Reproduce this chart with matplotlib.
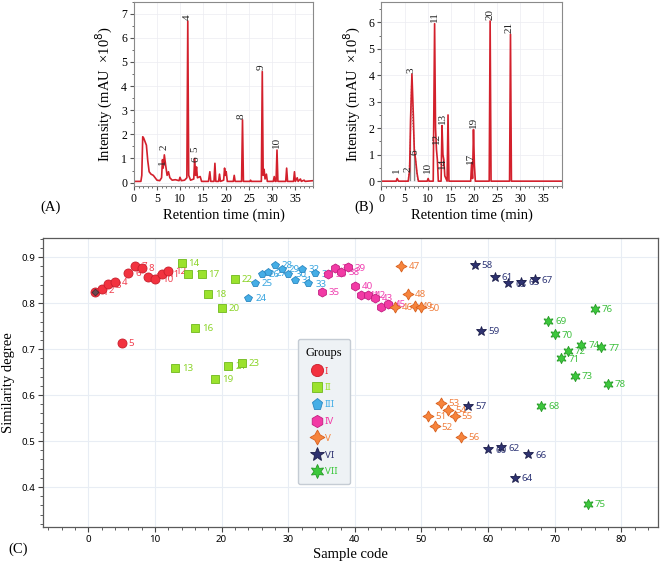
import matplotlib
matplotlib.use('Agg')
import matplotlib.pyplot as plt
from matplotlib.lines import Line2D
from matplotlib.ticker import MultipleLocator

# ---- chromatogram (A): retention time (min) vs intensity (x10^8 mAU)
a_time = [0, 1.5, 1.7, 1.9, 2.1, 2.4, 2.7, 3.0, 3.3, 3.7, 4.2, 4.6, 5.0, 5.6, 6.0, 6.2, 6.35,
          6.6, 6.9, 7.2, 7.5, 7.8, 8.3, 9.0, 9.8, 10.0, 10.3, 11.0, 11.5, 11.7, 11.9, 12.3,
          13.0, 13.2, 13.4, 13.6, 13.8, 14.4, 14.7, 16.2, 16.5, 16.7, 17.4, 17.6, 17.8, 18.4,
          18.6, 18.8, 19.5, 19.7, 19.9, 20.05, 20.3, 21.6, 21.8, 22.0, 23.4, 23.6, 23.8, 25.2,
          25.35, 25.5, 27.7, 27.9, 28.1, 28.3, 28.5, 28.8, 29.0, 30.3, 30.5, 30.7, 30.9, 31.1,
          31.3, 33.0, 33.2, 33.4, 34.7, 34.9, 35.1, 35.5, 35.7, 36.2, 36.4, 37.0, 37.2, 39.0]
a_intensity = [0.05, 0.05, 0.3, 1.9, 1.85, 1.7, 1.55, 0.9, 0.45, 0.35, 0.3, 0.2, 0.1, 0.08, 0.2,
               0.95, 0.6, 1.15, 0.7, 0.3, 0.45, 0.2, 0.1, 0.12, 0.08, 0.22, 0.08, 0.1, 0.2, 6.7,
               0.3, 0.1, 0.15, 1.0, 0.3, 0.65, 0.2, 0.25, 0.05, 0.05, 0.45, 0.05, 0.05, 0.8, 0.05,
               0.05, 0.35, 0.05, 0.1, 0.6, 0.3, 0.45, 0.05, 0.05, 0.3, 0.05, 0.05, 2.6, 0.05, 0.05,
               0.1, 0.05, 0.05, 4.6, 0.3, 0.55, 0.15, 0.35, 0.05, 0.05, 0.25, 0.05, 0.05, 1.35,
               0.05, 0.05, 0.6, 0.05, 0.05, 0.45, 0.05, 0.2, 0.05, 0.15, 0.05, 0.1, 0.05, 0.08]
a_peak_names = ['1', '2', '4', '5', '6', '8', '9', '10']
a_peak_rt = [6.2, 6.5, 11.5, 13.2, 13.5, 23.4, 27.7, 30.9]
a_peak_label_y = [0.75, 1.35, 6.75, 1.25, 0.85, 2.65, 4.65, 1.45]

# ---- chromatogram (B)
b_time = [0, 3.2, 3.4, 3.7, 5.8, 6.1, 6.3, 6.6, 6.9, 7.1, 7.4, 7.7, 8.0, 9.9, 10.1, 10.3, 11.2,
          11.5, 11.7, 11.9, 12.1, 12.3, 12.9, 13.1, 13.3, 13.5, 13.7, 14.2, 14.4, 14.6, 19.3,
          19.5, 19.7, 19.9, 20.1, 20.3, 23.3, 23.5, 23.7, 27.7, 27.9, 28.1, 39.0]
b_intensity = [0, 0, 0.1, 0, 0, 0.4, 2.3, 4.05, 2.5, 1.2, 0.8, 0.3, 0, 0, 0.1, 0, 0, 5.95, 2.0,
               1.2, 0.8, 0, 0, 2.1, 1.0, 0.8, 0.2, 0, 2.5, 0, 0, 0.7, 0.1, 1.95, 0.6, 0, 0, 6.05,
               0, 0, 5.55, 0, 0]
b_ref_time = [5.8, 6.2, 6.5, 6.8, 7.2, 7.5, 7.9]
b_ref_intensity = [0, 1.0, 3.6, 2.2, 1.2, 0.6, 0]
b_peak_names = ['1', '2', '3', '6', '10', '11', '12', '13', '14', '17', '19', '20', '21']
b_peak_rt = [3.3, 5.8, 6.5, 7.3, 9.9, 11.4, 11.9, 13.2, 13.3, 19.2, 19.9, 23.4, 27.6]
b_peak_label_y = [0.3, 0.35, 4.1, 1.0, 0.3, 6.0, 1.4, 2.15, 0.45, 0.65, 2.0, 6.1, 5.6]

# ---- similarity (C)
group_names = ['I', 'II', 'III', 'IV', 'V', 'VI', 'VII']
group_codes = [
    [1, 2, 3, 4, 5, 6, 7, 8, 9, 10, 11, 12],
    [13, 14, 15, 16, 17, 18, 19, 20, 21, 22, 23],
    [24, 25, 26, 27, 28, 29, 30, 31, 32, 33, 34],
    [35, 36, 37, 38, 39, 40, 41, 42, 43, 44, 45],
    [46, 47, 48, 49, 50, 51, 52, 53, 54, 55, 56],
    [57, 58, 59, 60, 61, 62, 63, 64, 65, 66, 67],
    [68, 69, 70, 71, 72, 73, 74, 75, 76, 77, 78],
]
group_similarity = [
    [0.825, 0.830, 0.841, 0.847, 0.713, 0.866, 0.882, 0.876, 0.858, 0.853, 0.863, 0.871],
    [0.659, 0.888, 0.863, 0.747, 0.864, 0.820, 0.636, 0.790, 0.664, 0.853, 0.670],
    [0.812, 0.845, 0.863, 0.867, 0.883, 0.874, 0.864, 0.851, 0.875, 0.843, 0.865],
    [0.824, 0.863, 0.876, 0.869, 0.878, 0.838, 0.818, 0.818, 0.811, 0.792, 0.798],
    [0.792, 0.881, 0.820, 0.795, 0.791, 0.554, 0.532, 0.583, 0.567, 0.554, 0.509],
    [0.576, 0.883, 0.739, 0.482, 0.858, 0.486, 0.843, 0.419, 0.846, 0.471, 0.852],
    [0.576, 0.762, 0.732, 0.680, 0.696, 0.642, 0.709, 0.364, 0.787, 0.704, 0.625],
]

markers = ['o', 's', 'p', 'h', (4, 1, 0), '*', (6, 1, 0)]
sizes = [6.5, 5.5, 6, 6.5, 8, 7.5, 7.5]
faces = ['#f2323f', '#9be22d', '#45aee6', '#f23aa5', '#f6843c', '#2e3270', '#3cc83c']
edges = ['#c81e2c', '#6fb81c', '#2a86c0', '#c21f80', '#d8601e', '#1b1d4a', '#259a25']
text_colors = ['#f04050', '#8cd42a', '#3aa6e0', '#f040b0', '#f08040', '#303878', '#40c040']

serif = 'Liberation Serif'
sans = 'Noto Sans'
red = '#d3202c'

fig = plt.figure(figsize=(6.61, 5.65), dpi=100)


def chrom_axes(rect, ymin, ytop):
    ax = fig.add_axes(rect)
    ax.set_xlim(0, 39)
    ax.set_ylim(ymin, ytop)
    ax.xaxis.set_major_locator(MultipleLocator(5))
    ax.xaxis.set_minor_locator(MultipleLocator(1))
    ax.yaxis.set_major_locator(MultipleLocator(1))
    ax.yaxis.set_minor_locator(MultipleLocator(0.5))
    ax.grid(True, color='#ececf2', lw=0.5)
    ax.set_axisbelow(True)
    for s in ax.spines.values():
        s.set_color('#8a8a8a')
        s.set_linewidth(0.8)
    ax.tick_params(which='both', direction='out', color='#555555', labelsize=8.5, pad=2)
    ax.tick_params(which='major', length=3)
    ax.tick_params(which='minor', length=1.5)
    for lab in ax.get_xticklabels() + ax.get_yticklabels():
        lab.set_fontfamily(serif)
    ax.set_xlabel('Retention time (min)', fontfamily=serif, fontsize=10.5, labelpad=2)
    ax.set_ylabel('Intensity (mAU  ×10$^{8}$)', fontfamily=serif, fontsize=10.5, labelpad=4)
    return ax


axA = chrom_axes([0.2027, 0.67, 0.2713, 0.327], -0.16, 7.5)
axA.plot(a_time, a_intensity, color=red, lw=1.2)
for name, rt, yl in zip(a_peak_names, a_peak_rt, a_peak_label_y):
    axA.text(rt, yl, name, rotation=90, ha='center', va='bottom', fontsize=8,
             fontfamily=serif, color='#222222')
axA.text(-0.52, -0.13, '(A)', transform=axA.transAxes, fontfamily=serif, fontsize=10.5)

axB = chrom_axes([0.577, 0.67, 0.273, 0.327], -0.2, 6.78)
axB.fill_between(b_ref_time, 0, b_ref_intensity, facecolor='none', edgecolor='#888888',
                 hatch='||||', lw=0)
axB.plot(b_ref_time, b_ref_intensity, color='#777777', lw=0.8, ls=':')
axB.plot(b_time, b_intensity, color=red, lw=1.2)
for name, rt, yl in zip(b_peak_names, b_peak_rt, b_peak_label_y):
    axB.text(rt, yl, name, rotation=90, ha='center', va='bottom', fontsize=8,
             fontfamily=serif, color='#222222')
axB.text(-0.15, -0.13, '(B)', transform=axB.transAxes, fontfamily=serif, fontsize=10.5)

# ---- panel C
axC = fig.add_axes([0.065, 0.0673, 0.9305, 0.5115])
axC.set_xlim(-6.8, 85.5)
axC.set_ylim(0.313, 0.942)
axC.xaxis.set_major_locator(MultipleLocator(10))
axC.xaxis.set_minor_locator(MultipleLocator(2))
axC.yaxis.set_major_locator(MultipleLocator(0.1))
axC.yaxis.set_minor_locator(MultipleLocator(0.02))
axC.grid(True, which='major', color='#e8edf4', lw=0.8)
axC.set_axisbelow(True)
for s in axC.spines.values():
    s.set_color('#5a5a5a')
    s.set_linewidth(0.9)
axC.tick_params(which='both', direction='out', color='#444444', labelsize=7, pad=2)
axC.tick_params(which='major', length=3.5)
axC.tick_params(which='minor', length=2)
for lab in axC.get_xticklabels() + axC.get_yticklabels():
    lab.set_fontfamily(sans)
axC.set_xlabel('Sample code', fontfamily=serif, fontsize=10.5, labelpad=3)
axC.set_ylabel('Similarity degree', fontfamily=serif, fontsize=10.5, labelpad=5)

handles = []
for i, name in enumerate(group_names):
    codes = group_codes[i]
    sims = group_similarity[i]
    for c, v in zip(codes, sims):
        axC.annotate(str(c), (c, v), xytext=(5, -0.5), textcoords='offset points',
                     va='center', ha='left', fontsize=7, fontfamily=sans,
                     color=text_colors[i], zorder=2)
    axC.plot(codes, sims, ls='none', marker=markers[i], ms=sizes[i],
             mfc=faces[i], mec=edges[i], mew=0.6, zorder=3)
    handles.append(Line2D([], [], ls='none', marker=markers[i], ms=sizes[i] * 1.35,
                          mfc=faces[i], mec=edges[i], mew=0.6, label=name))

# reference marker over sample 1
axC.plot(group_codes[0][:1], group_similarity[0][:1], ls='none', marker='D', ms=3.5,
         mfc='#6a4a50', mec='#3a2a30', mew=0.5, zorder=4)

leg = axC.legend(handles=handles, title='Groups', loc='upper left',
                 bbox_to_anchor=(0.415, 0.65), frameon=True, fancybox=True,
                 labelcolor='markerfacecolor', prop={'family': sans, 'size': 7},
                 handletextpad=0.3, labelspacing=0.8, borderpad=0.8,
                 handlelength=1.1, borderaxespad=0)
leg.get_title().set_fontfamily(serif)
leg.get_title().set_fontsize(9)
leg.get_frame().set_facecolor('#eef2f5')
leg.get_frame().set_edgecolor('#c5ccd4')
leg.get_frame().set_alpha(1)

fig.text(0.012, 0.022, '(C)', fontfamily=serif, fontsize=10.5)

fig.savefig('out.png', dpi=100)
